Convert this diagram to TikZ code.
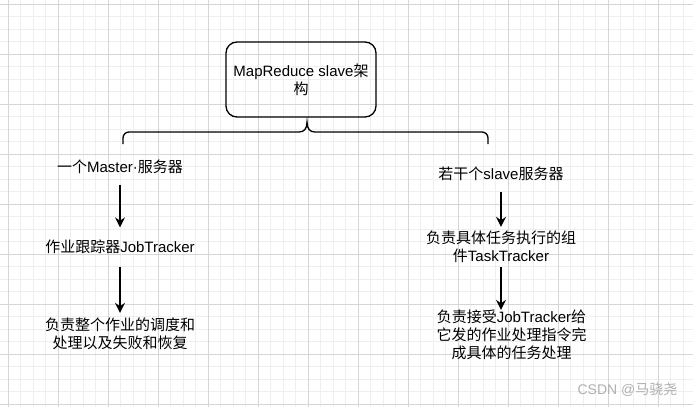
\documentclass[tikz,border=0pt]{standalone}
\usepackage{fontspec}
\setmainfont{Liberation Sans}
\newfontfamily\zhfont{Noto Sans CJK SC}
\newcommand{\Z}[1]{{\zhfont #1}}
\usetikzlibrary{arrows.meta}
\definecolor{gridminor}{HTML}{EFEFEF}
\definecolor{gridmajor}{HTML}{D6D6D6}
\definecolor{wm}{HTML}{B0B0B0}
\begin{document}
\begin{tikzpicture}[x=1pt,y=-1pt,
  minorline/.style={draw=gridminor,line width=0.9pt},
  majorline/.style={draw=gridmajor,line width=0.9pt},
  topbox/.style={draw=black,line width=1.3pt,rounded corners=11pt,minimum width=150pt,minimum height=75pt,inner sep=0pt,align=center,font=\fontsize{15}{18}\selectfont},
  lbl/.style={inner sep=0pt,align=center,font=\fontsize{15}{18}\selectfont},
  arr/.style={draw=black,line width=1.3pt,-{Stealth[length=10pt,width=10pt,inset=3.5pt]}},
  bracepath/.style={draw=black,line width=1.3pt}]
\useasboundingbox (0,0) rectangle (693,407);
\fill[white] (0,0) rectangle (693,407);
% grid
\foreach \i in {0,...,56} {\draw[minorline] ({-4.5+12.5*\i},0) -- ({-4.5+12.5*\i},407);}
\foreach \i in {0,...,33} {\draw[minorline] (0,{-8.5+12.5*\i}) -- (693,{-8.5+12.5*\i});}
\foreach \i in {0,...,13} {\draw[majorline] ({8+50*\i},0) -- ({8+50*\i},407);}
\foreach \i in {0,...,8} {\draw[majorline] (0,{4+50*\i}) -- (693,{4+50*\i});}
% top box
\node[topbox] (top) at (301,79.5) {MapReduce slave\Z{架}\\\Z{构}};
% brace
\draw[bracepath] (123,144) -- (123,138) .. controls (123,134.7) and (125.7,132) .. (129,132)
  -- (299,132) .. controls (304,132) and (307,129) .. (307,122)
  .. controls (307,129) and (310,132) .. (315,132)
  -- (482,132) .. controls (485.3,132) and (488,134.7) .. (488,138) -- (488,144);
% left column
\node[lbl,minimum height=36pt] (m1) at (120,167) {\Z{一个}Master·\Z{服务器}};
\node[lbl,minimum height=39pt] (m2) at (120,247) {\Z{作业跟踪器}JobTracker};
\node[lbl,minimum height=42pt] (m3) at (120,334) {\Z{负责整个作业的调度和}\\\Z{处理以及失败和恢复}};
% right column
\node[lbl,minimum height=36pt] (s1) at (501,174) {\Z{若干个}slave\Z{服务器}};
\node[lbl,minimum height=40pt] (s2) at (501,247) {\Z{负责具体任务执行的组}\\\Z{件}TaskTracker};
\node[lbl,minimum height=48pt] (s3) at (511.5,335) {\Z{负责接受}JobTracker\Z{给}\\\Z{它发的作业处理指令完}\\\Z{成具体的任务处理}};
% arrows
\draw[arr] (m1.south) -- (m2.north);
\draw[arr] (m2.south) -- (m3.north);
\draw[arr] (s1.south) -- (s2.north);
\draw[arr] (s2.south) -- (s2.south |- s3.north);
% watermark
\node[inner sep=0pt,text=wm,font=\fontsize{14}{16}\selectfont] (wmk) at (627.5,390) {CSDN @\Z{马骁尧}};
\end{tikzpicture}
\end{document}
